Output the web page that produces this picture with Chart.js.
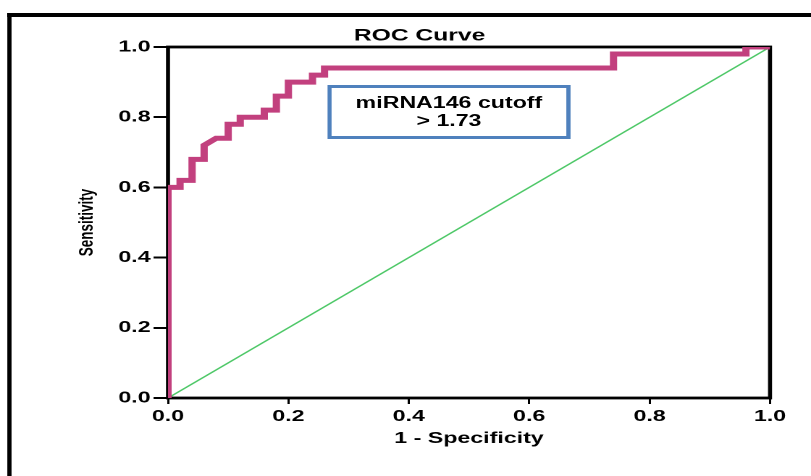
<!DOCTYPE html>
<html>
<head>
<meta charset="utf-8">
<title>ROC Curve</title>
<script src="https://cdn.jsdelivr.net/npm/chart.js@4.4.1/dist/chart.umd.min.js"></script>
<style>
  html, body { margin: 0; padding: 0; background: #fff; overflow: hidden; }
  /* the source picture is stretched sideways, so the whole chart is drawn narrow and scaled */
  #stage {
    position: absolute; left: 0; top: 0;
    width: 560px; height: 476px;
    transform: scaleX(1.44821); transform-origin: 0 0;
    overflow: hidden;
  }
  #frame {
    position: absolute; left: 5px; top: 13px;
    width: 2000px; height: 2000px;
    border-left: 3.7px solid #000; border-top: 4px solid #000;
  }
  #roc { position: absolute; left: 0; top: 0; }
  #cutoff {
    position: absolute; left: 226px; top: 85px;
    width: 168px; height: 54px; box-sizing: border-box;
    border: 3.5px solid #4f81bd;
    display: flex; flex-direction: column; justify-content: center;
    font: bold 16px "Liberation Sans", Arial, sans-serif;
    line-height: 18.5px; text-align: center; color: #000;
  }
</style>
</head>
<body>
<div id="stage">
  <div id="frame"></div>
  <canvas id="roc" width="560" height="476"></canvas>
  <div id="cutoff">miRNA146 cutoff<br>&gt; 1.73</div>
</div>
<script>
// ROC coordinates (1 - specificity, sensitivity)
const fprValues = [0, 0, 0.02, 0.02, 0.04, 0.04, 0.06, 0.06, 0.08, 0.10, 0.10, 0.12, 0.12, 0.16, 0.16, 0.18, 0.18, 0.20, 0.20, 0.24, 0.24, 0.26, 0.26, 0.74, 0.74, 0.96, 0.96, 1.0];
const tprValues = [0, 0.60, 0.60, 0.62, 0.62, 0.68, 0.68, 0.72, 0.74, 0.74, 0.78, 0.78, 0.80, 0.80, 0.82, 0.82, 0.86, 0.86, 0.90, 0.90, 0.92, 0.92, 0.94, 0.94, 0.98, 0.98, 1.0, 1.0];

// reference (chance) line
const refX = [0, 1];
const refY = [0, 1];

const tickLabels = ['0.0', '0.2', '0.4', '0.6', '0.8', '1.0'];

const FONT = '"Liberation Sans", Arial, sans-serif';
Chart.defaults.font.family = FONT;
Chart.defaults.color = '#000';

const boxBorder = {
  id: 'boxBorder',
  beforeDatasetsDraw(chart) {
    const { ctx, chartArea: a } = chart;
    ctx.save();
    ctx.strokeStyle = '#000';
    ctx.lineWidth = 2.8;
    ctx.strokeRect(a.left, a.top, a.right - a.left, a.bottom - a.top);
    ctx.restore();
  }
};

function axis(pos, width, height) {
  const horizontal = pos === 'bottom';
  return {
    type: 'linear',
    position: pos,
    min: 0,
    max: 1,
    border: { display: false },
    grid: {
      drawOnChartArea: false,
      drawTicks: true,
      tickLength: horizontal ? 6 : 10,
      color: '#000',
      lineWidth: horizontal ? 1.5 : 2
    },
    ticks: {
      stepSize: 0.2,
      autoSkip: false,
      maxRotation: 0,
      padding: horizontal ? 3 : 2,
      font: { size: 16, weight: 'bold' },
      callback: (v, i) => tickLabels[i]
    },
    title: {
      display: true,
      text: horizontal ? '1 - Specificity' : 'Sensitivity',
      font: { size: horizontal ? 16 : 13.5, weight: 'bold' },
      padding: horizontal ? { top: 0, bottom: 28 } : { top: 4.6, bottom: 0 }
    },
    afterFit(scale) {
      if (horizontal) scale.height = height;
      else scale.width = width;
    }
  };
}

new Chart(document.getElementById('roc'), {
  type: 'scatter',
  data: {
    datasets: [
      {
        label: 'ROC',
        data: fprValues.map((x, i) => ({ x: x, y: tprValues[i] })),
        showLine: true,
        borderColor: '#c2407e',
        borderWidth: 5,
        borderJoinStyle: 'miter',
        pointRadius: 0,
        tension: 0
      },
      {
        label: 'Reference',
        data: refX.map((x, i) => ({ x: x, y: refY[i] })),
        showLine: true,
        borderColor: '#4cc766',
        borderWidth: 1.3,
        pointRadius: 0
      }
    ]
  },
  options: {
    responsive: false,
    animation: false,
    devicePixelRatio: 2,
    layout: { padding: { left: 47.7, right: 28.3, top: 0, bottom: 0 } },
    plugins: {
      legend: { display: false },
      tooltip: { enabled: false },
      title: {
        display: true,
        text: 'ROC Curve',
        font: { size: 17, weight: 'bold' },
        color: '#000',
        padding: { top: 25.6, bottom: 1 }
      }
    },
    scales: {
      x: axis('bottom', 0, 78),
      y: axis('left', 68.3, 0)
    }
  },
  plugins: [boxBorder]
});
</script>
</body>
</html>
